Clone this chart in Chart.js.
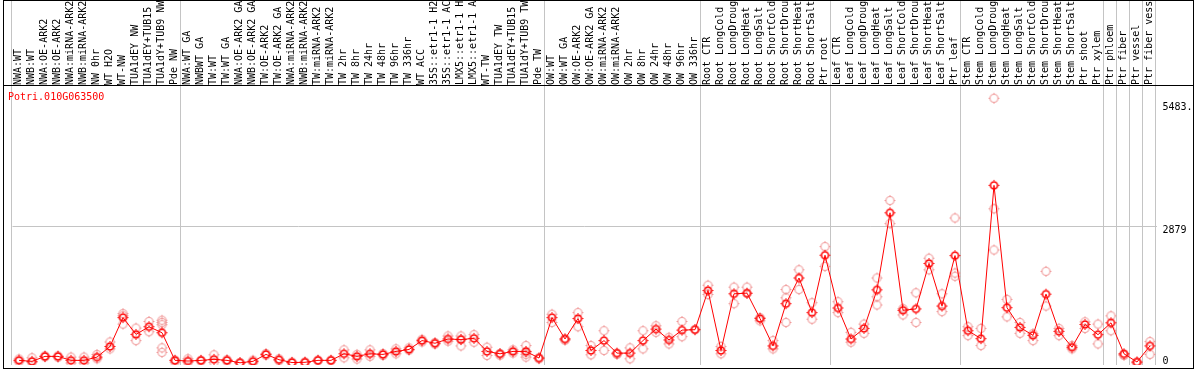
<!DOCTYPE html>
<html>
<head>
<meta charset="utf-8">
<script src="https://cdn.jsdelivr.net/npm/chart.js@4.4.1/dist/chart.umd.min.js"></script>
<style>
html,body{margin:0;padding:0;background:#fff;}
#wrap{width:1194px;height:370px;}
</style>
</head>
<body>
<div id="wrap"><canvas id="expChart" width="1194" height="370"></canvas></div>
<script>
let geneId = 'Potri.010G063500'

let sampleLabels = [
    'NWA:WT','NWB:WT','NWA:OE-ARK2','NWB:OE-ARK2','NWA:miRNA-ARK2','NWB:miRNA-ARK2','NW 0hr','WT H2O','WT-NW','TUA1dEY NW','TUA1dEY+TUB15','TUA1dY+TUB9 NW','Pde NW',
    'NWA:WT GA','NWBWT GA','TW:WT','TW:WT GA','NWA:OE-ARK2 GA','NWB:OE-ARK2 GA','TW:OE-ARK2','TW:OE-ARK2 GA','NWA:miRNA-ARK2','NWB:miRNA-ARK2','TW:miRNA-ARK2','TW:miRNA-ARK2','TW 2hr','TW 8hr','TW 24hr','TW 48hr','TW 96hr','TW 336hr','WT ACC','35S::etr1-1 H2','35S::etr1-1 AC','LMX5::etr1-1 H','LMX5::etr1-1 A','WT-TW','TUA1dEY TW','TUA1dEY+TUB15','TUA1dY+TUB9 TW','Pde TW',
    'OW:WT','OW:WT GA','OW:OE-ARK2','OW:OE-ARK2 GA','OW:miRNA-ARK2','OW:miRNA-ARK2','OW 2hr','OW 8hr','OW 24hr','OW 48hr','OW 96hr','OW 336hr',
    'Root CTR','Root LongCold','Root LongDroug','Root LongHeat','Root LongSalt','Root ShortCold','Root ShortDrou','Root ShortHeat','Root ShortSalt','Ptr root',
    'Leaf CTR','Leaf LongCold','Leaf LongDroug','Leaf LongHeat','Leaf LongSalt','Leaf ShortCold','Leaf ShortDrou','Leaf ShortHeat','Leaf ShortSalt','Ptr leaf',
    'Stem CTR','Stem LongCold','Stem LongDroug','Stem LongHeat','Stem LongSalt','Stem ShortCold','Stem ShortDrou','Stem ShortHeat','Stem ShortSalt','Ptr shoot',
    'Ptr xylem','Ptr phloem','Ptr fiber','Ptr vessel','Ptr fiber vess'
]

// mean per sample
let meanValues = [
    56,35,140,140,56,56,125,350,960,605,767,640,56,
    42,56,77,56,5,35,182,70,10,15,56,56,195,140,195,182,245,286,474,418,508,495,522,245,195,245,245,105,
    960,508,940,265,474,209,209,474,717,487,696,704,
    1532,265,1463,1477,940,362,1254,1797,1066,2278,
    1163,508,731,1547,3175,1115,1143,2104,1205,2271,
    683,515,3755,1170,752,585,1456,669,334,815,
    599,850,195,21,362
]

// replicate values per sample
let repValues = [
    [85,25],[110,10],[150,130],[150,120],[125,0],[125,0],[180,90],[445,300],[1045,1000,822],[738,474],[878,662],[905,857,809,320,224],[60,20],
    [90,10],[56,40],[174,10],[70,40],[0,10],[60,5],[200,165],[90,50],[20,0],[10,20],[60,50],[60,50],[279,111],[182,84],[279,140],[200,160],[300,195],[320,270],[500,445],[430,400],[571,460],[571,362,500],[599,440],[334,160],[200,165],[280,210],[370,230,182,125],[105,90],
    [1031,857],[508,480],[1066,767],[370,174],[683,265],[200,180],[320,90],[683,300],[787,648],[543,404],[878,557],[710],
    [1644,1449],[348,195],[1603,1254],[1603,1470],[892,960],[474,300],[1553,1379,857],[1971,1553],[1275,926],[2460,2042],
    [1296,1066],[648,439],[822,627],[1797,1400,1227],[3434,2947],[1017,1150],[1484,857],[2215,1971],[1463,1087],[3066,1902,1833],
    [767,579],[731,370],[5595,3260,2389],[1344,976],[857,627],[474,620],[1937,1205],[731,580],[370,300],[870,730],
    [822,404],[997,683],[180,160],[0,20],[453,182]
]

let yTicks = [0, 2879, 5483]
let groupStarts = [0, 13, 41, 53, 63, 73, 84, 85, 86, 87, 88]

let colorMean = '#ff0000'
let colorRep = '#f09a9a'
let colorGrid = '#c4c4c4'
let monoFont = {family: 'DejaVu Sans Mono', size: 10}

function makeMarker(color, r, lw) {
    let c = document.createElement('canvas')
    c.width = 13; c.height = 13
    let g = c.getContext('2d')
    g.strokeStyle = color
    g.lineWidth = lw
    g.beginPath(); g.arc(6.5, 6.5, r, 0, Math.PI * 2); g.stroke()
    // small spikes on the ring
    g.fillStyle = color
    let o = Math.round(6.5 - r - lw / 2) - 1
    g.fillRect(6, o, 1, 1)
    g.fillRect(6, 12 - o, 1, 1)
    g.fillRect(o, 6, 1, 1)
    g.fillRect(12 - o, 6, 1, 1)
    return c
}
let meanMarker = makeMarker(colorMean, 3.5, 1.6)
let repMarker = makeMarker(colorRep, 4, 1.1)

// replicate datasets, one per replicate slot
let maxReps = Math.max(...repValues.map(r => r.length))
let repSets = []
for (let k = 0; k < maxReps; k++) {
    repSets.push({
        type: 'line',
        data: repValues.map(r => r[k] === undefined ? null : r[k]),
        showLine: false,
        pointStyle: repMarker,
        order: 1
    })
}

// group separators, frame and gene name
let framePlugin = {
    id: 'frame',
    beforeDatasetsDraw(chart) {
        let ctx = chart.ctx, xs = chart.scales.x
        ctx.save()
        ctx.strokeStyle = colorGrid
        ctx.lineWidth = 1
        groupStarts.forEach(i => {
            let px = i < sampleLabels.length ? xs.getPixelForValue(i) - 8 : xs.getPixelForValue(i - 1) + 5
            px = Math.round(px) + 0.5
            ctx.beginPath(); ctx.moveTo(px, 0); ctx.lineTo(px, chart.chartArea.bottom); ctx.stroke()
        })
        ctx.restore()
    },
    afterDraw(chart) {
        let ctx = chart.ctx
        ctx.save()
        ctx.strokeStyle = '#000'
        ctx.lineWidth = 1
        ctx.strokeRect(3.5, 0.5, 1190, 368)
        ctx.beginPath(); ctx.moveTo(3.5, 85.5); ctx.lineTo(1193.5, 85.5); ctx.stroke()
        ctx.fillStyle = colorMean
        ctx.font = '10px "DejaVu Sans Mono"'
        ctx.textBaseline = 'middle'
        ctx.fillText(geneId, 8, 97)
        ctx.restore()
    }
}

let expChart = new Chart(document.getElementById('expChart').getContext('2d'), {
    type: 'line',
    data: {
        labels: sampleLabels,
        datasets: [{
            data: meanValues,
            borderColor: colorMean,
            borderWidth: 1,
            pointStyle: meanMarker,
            tension: 0,
            order: 0
        }].concat(repSets)
    },
    options: {
        responsive: false,
        animation: false,
        layout: {padding: {left: 12.5, right: 0, top: 0, bottom: 2}},
        scales: {
            x: {
                type: 'category',
                position: 'top',
                offset: true,
                grid: {display: false},
                border: {display: false},
                ticks: {
                    autoSkip: false,
                    minRotation: 90,
                    maxRotation: 90,
                    padding: -7,
                    labelOffset: 11.5,
                    color: '#000',
                    font: monoFont
                },
                afterFit: s => {
                    s.height = 86
                    s.paddingLeft = 0
                    s.paddingRight = 0
                }
            },
            y: {
                position: 'right',
                min: -42,
                max: 5855,
                afterBuildTicks: s => { s.ticks = yTicks.map(v => ({value: v})) },
                grid: {
                    color: c => c.tick && c.tick.value === 2879 ? colorGrid : 'rgba(0,0,0,0)',
                    drawTicks: false
                },
                border: {display: false},
                ticks: {
                    padding: 6,
                    labelOffset: 4,
                    color: '#000',
                    font: monoFont,
                    callback: v => v === 5483 ? '5483.' : v === 0 ? ['0', ''] : String(v)
                },
                afterFit: s => {
                    s.width = 37.5
                    s.paddingTop = 0
                    s.paddingBottom = 0
                }
            }
        },
        plugins: {
            legend: {display: false},
            tooltip: {enabled: false}
        }
    },
    plugins: [framePlugin]
});
</script>
</body>
</html>
